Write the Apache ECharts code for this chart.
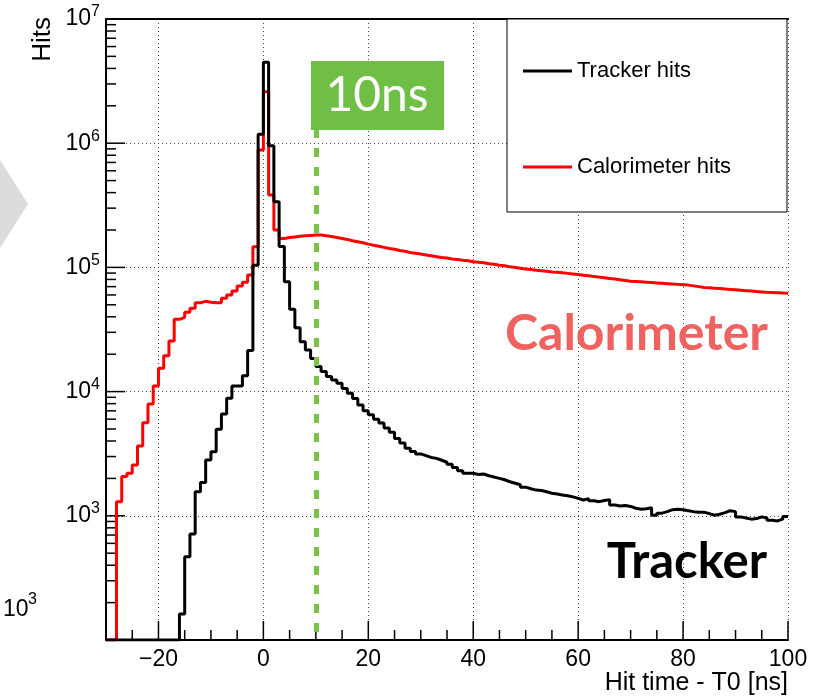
<!DOCTYPE html>
<html>
<head>
<meta charset="utf-8">
<title>Hit time - T0</title>
<script src="https://cdn.jsdelivr.net/npm/echarts@6/dist/echarts.min.js"></script>
<style>
html, body { margin: 0; padding: 0; background: #fff; }
#chart { width: 827px; height: 697px; }
</style>
</head>
<body>
<div id="chart"></div>
<script>
// histogram binning: 1 ns bins, first bin starts at -30 ns
var binStart = -30
var binWidth = 1
var xMin = -30
var xMax = 100
var yMin = 100
var yMax = 1e7

var xTicks = [-20, 0, 20, 40, 60, 80, 100]
var xMinorTicks = [-25, -15, -10, -5, 5, 10, 15, 25, 30, 35, 45, 50, 55, 65, 70, 75, 85, 90, 95]
var yTicks = [100, 1000, 10000, 100000, 1000000, 10000000]
var yMinorTicks = [
  200, 300, 400, 500, 600, 700, 800, 900,
  2000, 3000, 4000, 5000, 6000, 7000, 8000, 9000,
  20000, 30000, 40000, 50000, 60000, 70000, 80000, 90000,
  200000, 300000, 400000, 500000, 600000, 700000, 800000, 900000,
  2000000, 3000000, 4000000, 5000000, 6000000, 7000000, 8000000, 9000000
]
var markTimes = [10]

// hits per bin, bins -30 .. 99 ns
var trackerHits = [
  0, 0, 0, 0, 0, 0, 0, 0, 0, 0,
  0, 0, 0, 0, 162, 469, 714, 1560, 1850, 2810,
  3280, 4970, 6600, 8830, 11100, 11100, 13400, 21400, 104000, 1180000,
  4480000, 955000, 338000, 147000, 76700, 46000, 32700, 25200, 21600, 18500,
  15900, 14500, 13200, 12400, 11700, 10600, 9700, 8800, 7800, 7000,
  6500, 6000, 5600, 5100, 4700, 4200, 3850, 3500, 3300, 3150,
  3050, 2950, 2900, 2800, 2700, 2600, 2450, 2300, 2200, 2200,
  2150, 2170, 2100, 2050, 2000, 1950, 1880, 1830, 1780, 1700,
  1650, 1610, 1600, 1560, 1520, 1500, 1470, 1450, 1420, 1380,
  1340, 1370, 1320, 1300, 1330, 1350, 1220, 1200, 1210, 1190,
  1150, 1130, 1140, 1160, 1010, 1050, 1080, 1120, 1130, 1120,
  1100, 1080, 1070, 1070, 1040, 1010, 1030, 1060, 1100, 1080,
  980, 960, 940, 950, 980, 960, 920, 910, 940, 985
]
var caloHits = [
  0, 0, 1300, 2070, 2200, 2560, 3650, 5620, 7940, 11100,
  15400, 19400, 25600, 38200, 39600, 43500, 46900, 52000, 53300, 52500,
  52000, 52000, 56400, 60000, 64600, 70800, 75800, 86900, 146900, 881000,
  2600000, 383000, 200000, 171000, 174000, 176000, 178000, 180000, 181000, 182000,
  182000, 180000, 177000, 174000, 171000, 168000, 164000, 161000, 158000, 154000,
  151000, 148000, 145000, 142000, 140000, 137000, 135000, 132000, 130000, 128000,
  126000, 124000, 122000, 120000, 119000, 117000, 116000, 114000, 113000, 111000,
  110000, 109000, 107000, 106000, 104000, 103000, 101000, 100000, 98500, 97000,
  96000, 95000, 94000, 93000, 92000, 91500, 90500, 89500, 88500, 87500,
  86500, 85500, 84500, 83500, 82500, 81500, 80500, 79500, 78500, 77500,
  77000, 76500, 76000, 75500, 75000, 74500, 74000, 73500, 73000, 72500,
  72000, 71000, 70000, 69000, 68500, 68000, 67500, 67000, 66500, 66000,
  65500, 65000, 64500, 64000, 63500, 63000, 62800, 62500, 62200, 62000
]

var rootFont = '"Liberation Sans", Arial, Helvetica, sans-serif'
var slideFont = 'Lato, "Open Sans", sans-serif'

// histogram outline: one point per bin low edge, plus the last edge
// empty bins sit on the bottom of the log axis like ROOT draws them
function histPoints (vals) {
  var pts = []
  for (var i = 0; i < vals.length; i++) {
    pts.push([binStart + i * binWidth, vals[i] > 0 ? vals[i] : yMin])
  }
  pts.push([binStart + vals.length * binWidth, pts[pts.length - 1][1]])
  return pts
}

// ROOT style ticks, drawn inward from the frame: [kind, x, y, length]
// kind 0 = tick on the x axis, kind 1 = tick on the y axis
var tickData = []
xTicks.forEach(function (v) { tickData.push([0, v, yMin, 19]) })
xMinorTicks.forEach(function (v) { tickData.push([0, v, yMin, 10]) })
yTicks.forEach(function (v) { tickData.push([1, xMin, v, 19]) })
yMinorTicks.forEach(function (v) { tickData.push([1, xMin, v, 10]) })

function renderTick (params, api) {
  var p = api.coord([api.value(1), api.value(2)])
  var len = api.value(3)
  var shape = api.value(0) === 0
    ? { x1: p[0], y1: p[1], x2: p[0], y2: p[1] - len }
    : { x1: p[0], y1: p[1], x2: p[0] + len, y2: p[1] }
  return {
    type: 'line',
    shape: shape,
    style: { stroke: '#000', lineWidth: 1.5 }
  }
}

var chart = echarts.init(document.getElementById('chart'), null, { renderer: 'canvas' })

var dotLine = { color: '#444', width: 1, type: [1, 3] }

var option = {
  backgroundColor: '#fff',
  animation: false,
  grid: {
    left: 106,
    right: 39,
    top: 19,
    bottom: 57,
    containLabel: false,
    outerBoundsMode: 'none'
  },
  legend: {
    data: ['Tracker hits', 'Calorimeter hits'],
    orient: 'vertical',
    left: 518,
    top: 55,
    icon: 'rect',
    itemWidth: 49,
    itemHeight: 3,
    itemGap: 74,
    z: 10,
    textStyle: {
      fontFamily: rootFont,
      fontSize: 22,
      lineHeight: 22,
      color: '#000'
    }
  },
  xAxis: [{
    type: 'value',
    min: xMin,
    max: xMax,
    position: 'bottom',
    axisLine: { show: true, onZero: false, lineStyle: { color: '#000', width: 2 } },
    axisTick: { show: false, customValues: xTicks },
    axisLabel: {
      customValues: xTicks,
      margin: 8,
      fontFamily: rootFont,
      fontSize: 23,
      color: '#000',
      formatter: function (v) { return String(v).replace('-', '\u2212') }
    },
    splitLine: { show: true, lineStyle: dotLine }
  }, {
    // top frame
    type: 'value',
    min: xMin,
    max: xMax,
    position: 'top',
    axisLine: { show: true, onZero: false, lineStyle: { color: '#000', width: 2 } },
    axisTick: { show: false },
    axisLabel: { show: false },
    splitLine: { show: false }
  }],
  yAxis: {
    type: 'log',
    logBase: 10,
    min: yMin,
    max: yMax,
    position: 'left',
    axisLine: { show: true, onZero: false, lineStyle: { color: '#000', width: 2 } },
    axisTick: { show: false },
    axisLabel: {
      margin: 6,
      formatter: function (v) {
        var e = Math.round(Math.log10(v))
        if (e <= 2) return ''
        return '{b|10}{s|' + e + '}'
      },
      rich: {
        b: { fontFamily: rootFont, fontSize: 23, lineHeight: 30, color: '#000' },
        s: { fontFamily: rootFont, fontSize: 16, lineHeight: 12, verticalAlign: 'top', color: '#000' }
      }
    },
    splitLine: { show: true, lineStyle: dotLine }
  },
  series: [{
    name: 'Calorimeter hits',
    type: 'line',
    step: 'end',
    showSymbol: false,
    symbol: 'none',
    color: '#ff0000',
    lineStyle: { color: '#ff0000', width: 3 },
    data: histPoints(caloHits)
  }, {
    name: 'Tracker hits',
    type: 'line',
    step: 'end',
    showSymbol: false,
    symbol: 'none',
    color: '#000',
    lineStyle: { color: '#000', width: 3 },
    data: histPoints(trackerHits),
    markLine: {
      silent: true,
      symbol: 'none',
      label: { show: false },
      lineStyle: { color: '#7cc24a', width: 5, type: [9, 10] },
      data: markTimes.map(function (t) {
        return [{ coord: [t, 1.3e6] }, { coord: [t, yMin] }]
      })
    }
  }, {
    type: 'custom',
    silent: true,
    clip: false,
    z: 3,
    encode: { x: 1, y: 2 },
    renderItem: renderTick,
    data: tickData
  }],
  graphic: {
    elements: [
      // legend frame
      {
        type: 'rect',
        z: 5,
        shape: { x: 507, y: 19, width: 280, height: 193 },
        style: { fill: '#fff', stroke: '#000', lineWidth: 1 }
      },
      // slide leftovers
      {
        type: 'polygon',
        z: 5,
        shape: { points: [[0, 160], [28, 204], [0, 248]] },
        style: { fill: '#dcdcdc' }
      },
      {
        type: 'text',
        z: 5,
        x: 3,
        y: 610,
        style: {
          text: '10',
          font: '23px ' + rootFont,
          fill: '#000',
          align: 'left',
          verticalAlign: 'middle'
        }
      },
      {
        type: 'text',
        z: 5,
        x: 28,
        y: 600,
        style: {
          text: '3',
          font: '16px ' + rootFont,
          fill: '#000',
          align: 'left',
          verticalAlign: 'middle'
        }
      },
      // axis titles
      {
        type: 'text',
        z: 5,
        x: 43,
        y: 17,
        rotation: Math.PI / 2,
        style: {
          text: 'Hits',
          font: '26px ' + rootFont,
          fill: '#000',
          align: 'right',
          verticalAlign: 'middle'
        }
      },
      {
        type: 'text',
        z: 5,
        x: 788,
        y: 683,
        style: {
          text: 'Hit time - T0 [ns]',
          font: '25px ' + rootFont,
          fill: '#000',
          align: 'right',
          verticalAlign: 'middle'
        }
      },
      // 10 ns tag
      {
        type: 'rect',
        z: 6,
        shape: { x: 311, y: 61, width: 133, height: 69 },
        style: { fill: '#6fbe46' }
      },
      {
        type: 'text',
        z: 7,
        x: 377,
        y: 96,
        style: {
          text: '10ns',
          font: '48px ' + slideFont,
          fill: '#fff',
          align: 'center',
          verticalAlign: 'middle'
        }
      },
      {
        type: 'text',
        z: 7,
        x: 768,
        y: 334,
        style: {
          text: 'Calorimeter',
          font: 'bold 50px ' + slideFont,
          fill: '#ee6360',
          align: 'right',
          verticalAlign: 'middle'
        }
      },
      {
        type: 'text',
        z: 7,
        x: 767,
        y: 562,
        style: {
          text: 'Tracker',
          font: 'bold 49px ' + slideFont,
          fill: '#000',
          align: 'right',
          verticalAlign: 'middle'
        }
      }
    ]
  }
}

chart.setOption(option)
</script>
</body>
</html>
